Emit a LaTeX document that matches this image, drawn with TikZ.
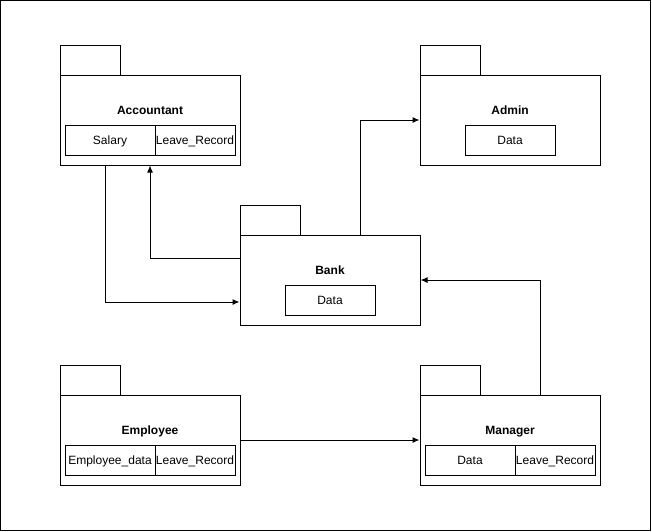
\documentclass[tikz,border=0pt]{standalone}
\usepackage{fontspec}
\setmainfont{Liberation Sans}
\usepackage{tikz}
\usetikzlibrary{arrows.meta}

\tikzset{
	pkg/.style={draw, line width=1pt, minimum width=180pt, minimum height=90pt, inner sep=0pt},
	pkgtab/.style={draw, line width=1pt, minimum width=60pt, minimum height=30pt, inner sep=0pt},
	cell/.style={draw, line width=1pt, minimum height=30pt, inner sep=0pt, text height=9.6pt, text depth=1.6pt, font=\fontsize{12}{14}\selectfont},
	ttl/.style={font=\fontsize{12}{14}\selectfont\bfseries, inner sep=0pt, text height=9.6pt, text depth=1.6pt}
}

\begin{document}
\begin{tikzpicture}[x=1pt,y=-1pt]
	\useasboundingbox (0,0) rectangle (652,531);
	\draw[line width=1pt] (0.5,0.5) rectangle (650.5,530);

	% packages
	\node[pkgtab] at (90,60) (acctab) {};
	\node[pkg] at (150,120) (acc) {};
	\node[ttl] at (150,110) (accname) {Accountant};
	\node[cell, minimum width=90pt] at (110,140) (salary) {Salary};
	\node[cell, minimum width=80pt] at (195,140) (accleave) {Leave\_Record};

	\node[pkgtab] at (450,60) (admtab) {};
	\node[pkg] at (510,120) (adm) {};
	\node[ttl] at (510,110) (admname) {Admin};
	\node[cell, minimum width=90pt] at (510,140) (admdata) {Data};

	\node[pkgtab] at (270,220) (banktab) {};
	\node[pkg] at (330,280) (bank) {};
	\node[ttl] at (330,270) (bankname) {Bank};
	\node[cell, minimum width=90pt] at (330,300) (bankdata) {Data};

	\node[pkgtab] at (90,380) (emptab) {};
	\node[pkg] at (150,440) (emp) {};
	\node[ttl] at (150,430) (empname) {Employee};
	\node[cell, minimum width=90pt] at (110,460) (empdata) {Employee\_data};
	\node[cell, minimum width=80pt] at (195,460) (empleave) {Leave\_Record};

	\node[pkgtab] at (450,380) (mgrtab) {};
	\node[pkg] at (510,440) (mgr) {};
	\node[ttl] at (510,430) (mgrname) {Manager};
	\node[cell, minimum width=90pt] at (470,460) (mgrdata) {Data};
	\node[cell, minimum width=80pt] at (555,460) (mgrleave) {Leave\_Record};

	% links
	\draw[->,>={Latex[length=7pt,width=6pt]}, line width=1pt] ([yshift=22pt]bank.west) -| (acc.south);
	\draw[->,>={Latex[length=7pt,width=6pt]}, line width=1pt] ([xshift=-45pt]acc.south) |- ([yshift=-22pt]bank.west);
	\draw[->,>={Latex[length=7pt,width=6pt]}, line width=1pt] ([xshift=30pt]bank.north) |- (adm.west);
	\draw[->,>={Latex[length=7pt,width=6pt]}, line width=1pt] (emp.east) -- (mgr.west);
	\draw[->,>={Latex[length=7pt,width=6pt]}, line width=1pt] ([xshift=30pt]mgr.north) |- (bank.east);
\end{tikzpicture}
\end{document}
